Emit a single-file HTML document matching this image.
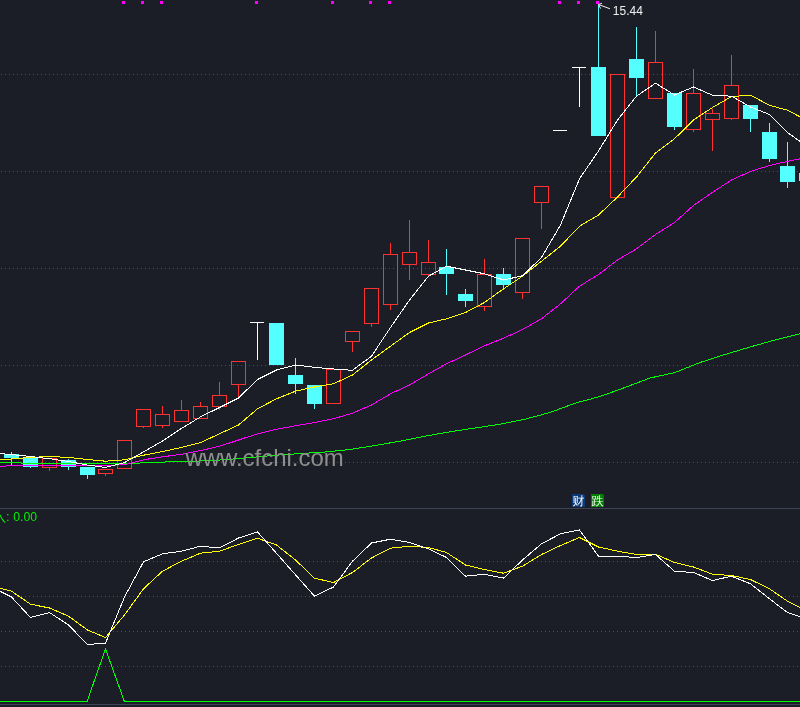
<!DOCTYPE html>
<html><head><meta charset="utf-8"><title>chart</title>
<style>html,body{margin:0;padding:0;background:#1c1e27;overflow:hidden}svg{display:block}</style></head>
<body>
<svg width="800" height="707" viewBox="0 0 800 707">
<g shape-rendering="crispEdges">
<rect width="800" height="707" fill="#1c1e27"/>
<line x1="1" x2="800" y1="74.5" y2="74.5" stroke="#465060" stroke-width="1" stroke-dasharray="1 3"/>
<line x1="1" x2="800" y1="171.5" y2="171.5" stroke="#465060" stroke-width="1" stroke-dasharray="1 3"/>
<line x1="1" x2="800" y1="268.5" y2="268.5" stroke="#465060" stroke-width="1" stroke-dasharray="1 3"/>
<line x1="1" x2="800" y1="365.5" y2="365.5" stroke="#465060" stroke-width="1" stroke-dasharray="1 3"/>
<line x1="1" x2="800" y1="462.5" y2="462.5" stroke="#465060" stroke-width="1" stroke-dasharray="1 3"/>
<line x1="1" x2="800" y1="561.5" y2="561.5" stroke="#465060" stroke-width="1" stroke-dasharray="1 3"/>
<line x1="1" x2="800" y1="596.5" y2="596.5" stroke="#465060" stroke-width="1" stroke-dasharray="1 3"/>
<line x1="1" x2="800" y1="631.5" y2="631.5" stroke="#465060" stroke-width="1" stroke-dasharray="1 3"/>
<line x1="1" x2="800" y1="666.5" y2="666.5" stroke="#465060" stroke-width="1" stroke-dasharray="1 3"/>
<rect x="0" y="508" width="800" height="1" fill="#3d4453"/>
<rect x="0" y="704" width="800" height="1" fill="#3d4453"/>
<rect x="4" y="454" width="15" height="4" fill="#54ffff"/>
<rect x="11" y="452" width="1" height="2" fill="#54ffff"/>
<rect x="11" y="458" width="1" height="7" fill="#54ffff"/>
<rect x="23" y="457" width="15" height="10" fill="#54ffff"/>
<rect x="30" y="467" width="1" height="1" fill="#54ffff"/>
<rect x="42.5" y="458.5" width="14" height="9" fill="none" stroke="#ff3232"/>
<rect x="49" y="468" width="1" height="3" fill="#ff3232"/>
<rect x="61" y="460" width="15" height="7" fill="#54ffff"/>
<rect x="68" y="459" width="1" height="1" fill="#54ffff"/>
<rect x="68" y="467" width="1" height="3" fill="#54ffff"/>
<rect x="80" y="467" width="15" height="8" fill="#54ffff"/>
<rect x="87" y="475" width="1" height="4" fill="#54ffff"/>
<rect x="98.5" y="469.5" width="14" height="4" fill="none" stroke="#ff3232"/>
<rect x="105" y="474" width="1" height="2" fill="#ff3232"/>
<rect x="117.5" y="440.5" width="14" height="28" fill="none" stroke="#ff3232"/>
<rect x="136.5" y="409.5" width="14" height="17" fill="none" stroke="#ff3232"/>
<rect x="143" y="427" width="1" height="1" fill="#ff3232"/>
<rect x="155.5" y="414.5" width="14" height="11" fill="none" stroke="#ff3232"/>
<rect x="162" y="406" width="1" height="8" fill="#ff3232"/>
<rect x="162" y="426" width="1" height="2" fill="#ff3232"/>
<rect x="174.5" y="410.5" width="14" height="11" fill="none" stroke="#ff3232"/>
<rect x="181" y="400" width="1" height="10" fill="#ff3232"/>
<rect x="193.5" y="406.5" width="14" height="12" fill="none" stroke="#ff3232"/>
<rect x="200" y="402" width="1" height="4" fill="#ff3232"/>
<rect x="212.5" y="395.5" width="14" height="11" fill="none" stroke="#ff3232"/>
<rect x="219" y="382" width="1" height="13" fill="#ff3232"/>
<rect x="219" y="407" width="1" height="3" fill="#ff3232"/>
<rect x="231.5" y="361.5" width="14" height="23" fill="none" stroke="#ff3232"/>
<rect x="238" y="385" width="1" height="12" fill="#ff3232"/>
<rect x="250" y="322" width="14" height="1" fill="#ffffff"/>
<rect x="257" y="323" width="1" height="37" fill="#ffffff"/>
<rect x="269" y="323" width="15" height="42" fill="#54ffff"/>
<rect x="288" y="375" width="15" height="9" fill="#54ffff"/>
<rect x="295" y="358" width="1" height="17" fill="#54ffff"/>
<rect x="295" y="384" width="1" height="10" fill="#54ffff"/>
<rect x="307" y="385" width="15" height="19" fill="#54ffff"/>
<rect x="314" y="404" width="1" height="5" fill="#54ffff"/>
<rect x="326.5" y="369.5" width="14" height="34" fill="none" stroke="#ff3232"/>
<rect x="345.5" y="331.5" width="14" height="10" fill="none" stroke="#ff3232"/>
<rect x="352" y="342" width="1" height="10" fill="#ff3232"/>
<rect x="364.5" y="288.5" width="14" height="35" fill="none" stroke="#ff3232"/>
<rect x="371" y="324" width="1" height="3" fill="#ff3232"/>
<rect x="383.5" y="254.5" width="14" height="50" fill="none" stroke="#ff3232"/>
<rect x="390" y="243" width="1" height="11" fill="#ff3232"/>
<rect x="390" y="305" width="1" height="5" fill="#ff3232"/>
<rect x="402.5" y="252.5" width="14" height="12" fill="none" stroke="#ff3232"/>
<rect x="409" y="220" width="1" height="32" fill="#ff3232"/>
<rect x="409" y="265" width="1" height="15" fill="#ff3232"/>
<rect x="421.5" y="262.5" width="14" height="12" fill="none" stroke="#ff3232"/>
<rect x="428" y="240" width="1" height="22" fill="#ff3232"/>
<rect x="428" y="275" width="1" height="1" fill="#ff3232"/>
<rect x="439" y="267" width="15" height="7" fill="#54ffff"/>
<rect x="446" y="249" width="1" height="18" fill="#54ffff"/>
<rect x="446" y="274" width="1" height="21" fill="#54ffff"/>
<rect x="458" y="294" width="15" height="7" fill="#54ffff"/>
<rect x="465" y="289" width="1" height="5" fill="#54ffff"/>
<rect x="465" y="301" width="1" height="6" fill="#54ffff"/>
<rect x="477.5" y="274.5" width="14" height="32" fill="none" stroke="#ff3232"/>
<rect x="484" y="259" width="1" height="15" fill="#ff3232"/>
<rect x="484" y="307" width="1" height="4" fill="#ff3232"/>
<rect x="496" y="274" width="15" height="11" fill="#54ffff"/>
<rect x="503" y="268" width="1" height="6" fill="#54ffff"/>
<rect x="503" y="285" width="1" height="5" fill="#54ffff"/>
<rect x="515.5" y="238.5" width="14" height="54" fill="none" stroke="#ff3232"/>
<rect x="522" y="293" width="1" height="6" fill="#ff3232"/>
<rect x="534.5" y="186.5" width="14" height="16" fill="none" stroke="#ff3232"/>
<rect x="541" y="203" width="1" height="26" fill="#ff3232"/>
<rect x="553" y="130" width="14" height="1" fill="#ffffff"/>
<rect x="572" y="67" width="14" height="1" fill="#ffffff"/>
<rect x="579" y="68" width="1" height="39" fill="#ffffff"/>
<rect x="591" y="67" width="15" height="69" fill="#54ffff"/>
<rect x="598" y="5" width="1" height="62" fill="#54ffff"/>
<rect x="610.5" y="74.5" width="14" height="123" fill="none" stroke="#ff3232"/>
<rect x="629" y="59" width="15" height="19" fill="#54ffff"/>
<rect x="636" y="27" width="1" height="32" fill="#54ffff"/>
<rect x="636" y="78" width="1" height="18" fill="#54ffff"/>
<rect x="648.5" y="62.5" width="14" height="36" fill="none" stroke="#ff3232"/>
<rect x="655" y="31" width="1" height="31" fill="#ff3232"/>
<rect x="667" y="93" width="15" height="34" fill="#54ffff"/>
<rect x="674" y="127" width="1" height="3" fill="#54ffff"/>
<rect x="686.5" y="93.5" width="14" height="36" fill="none" stroke="#ff3232"/>
<rect x="693" y="69" width="1" height="24" fill="#ff3232"/>
<rect x="693" y="130" width="1" height="2" fill="#ff3232"/>
<rect x="705.5" y="113.5" width="14" height="6" fill="none" stroke="#ff3232"/>
<rect x="712" y="109" width="1" height="4" fill="#ff3232"/>
<rect x="712" y="120" width="1" height="31" fill="#ff3232"/>
<rect x="724.5" y="85.5" width="14" height="33" fill="none" stroke="#ff3232"/>
<rect x="731" y="55" width="1" height="30" fill="#ff3232"/>
<rect x="731" y="119" width="1" height="1" fill="#ff3232"/>
<rect x="743" y="105" width="15" height="14" fill="#54ffff"/>
<rect x="750" y="119" width="1" height="13" fill="#54ffff"/>
<rect x="762" y="132" width="15" height="27" fill="#54ffff"/>
<rect x="769" y="123" width="1" height="9" fill="#54ffff"/>
<rect x="769" y="159" width="1" height="3" fill="#54ffff"/>
<rect x="780" y="166" width="15" height="16" fill="#54ffff"/>
<rect x="787" y="142" width="1" height="24" fill="#54ffff"/>
<rect x="787" y="182" width="1" height="6" fill="#54ffff"/>
<rect x="799" y="173" width="15" height="8" fill="#54ffff"/>
<polyline points="0.0,462.5 20.0,462.5 22.0,463.5 130.0,463.5 150.0,462.5 180.0,461.5 200.0,461.0 220.0,460.0 240.0,458.5 250.0,457.5 275.0,455.3 300.0,453.6 325.0,452.0 350.0,449.5 375.0,445.5 400.0,441.2 425.0,436.2 450.0,431.8 475.0,428.0 500.0,424.2 525.0,419.2 550.0,412.5 575.0,403.2 600.0,396.5 625.0,387.5 650.0,378.0 675.0,372.5 700.0,362.5 725.0,354.5 750.0,347.0 775.0,340.0 800.0,333.8" fill="none" stroke="#00ff00"/>
<polyline points="0.0,466.5 11.5,465.5 30.5,465.5 49.5,465.5 68.5,465.5 87.5,465.5 105.5,465.5 124.5,464.6 143.5,459.8 162.5,456.8 181.5,454.3 200.5,450.6 219.5,446.3 238.5,440.0 257.5,433.8 276.5,429.2 295.5,425.8 314.5,422.5 333.5,418.8 352.5,413.2 371.5,405.0 390.5,393.8 409.5,385.0 428.5,373.8 446.5,363.8 465.5,355.0 484.5,345.8 503.5,338.2 522.5,329.5 541.5,318.8 560.5,303.8 579.5,286.2 598.5,274.5 617.5,260.0 636.5,248.8 655.5,234.5 674.5,222.5 693.5,205.5 712.5,192.3 731.5,180.0 750.5,171.4 769.5,165.5 787.5,161.4 806.5,157.5" fill="none" stroke="#ff00ff" stroke-width="1"/>
<polyline points="0.0,459.5 11.5,459.0 30.5,457.4 49.5,456.5 68.5,457.4 87.5,459.5 105.5,461.2 124.5,459.8 143.5,455.2 162.5,451.6 181.5,447.4 200.5,442.6 219.5,433.8 238.5,425.0 257.5,408.8 276.5,398.8 295.5,391.2 314.5,387.0 333.5,383.8 352.5,375.0 371.5,360.0 390.5,346.2 409.5,332.5 428.5,323.0 446.5,318.8 465.5,312.5 484.5,302.5 503.5,288.8 522.5,276.2 541.5,261.2 560.5,246.2 579.5,226.2 598.5,215.0 617.5,197.0 636.5,177.0 655.5,153.0 674.5,138.8 693.5,120.0 712.5,107.5 731.5,96.5 750.5,95.2 769.5,105.3 787.5,110.2 806.5,120.2" fill="none" stroke="#ffff00" stroke-width="1"/>
<polyline points="0.0,453.5 11.5,454.6 30.5,456.5 49.5,458.7 68.5,461.5 87.5,465.1 105.5,467.4 124.5,462.6 143.5,451.9 162.5,441.1 181.5,428.4 200.5,416.9 219.5,407.5 238.5,398.0 257.5,379.5 276.5,370.0 295.5,365.0 314.5,367.3 333.5,369.0 352.5,370.3 371.5,356.2 390.5,327.5 409.5,300.0 428.5,276.2 446.5,266.2 465.5,270.0 484.5,273.8 503.5,280.0 522.5,275.8 541.5,257.5 560.5,225.0 579.5,178.8 598.5,151.0 617.5,120.0 636.5,96.2 655.5,83.2 674.5,95.0 693.5,87.0 712.5,95.2 731.5,96.2 750.5,107.0 769.5,114.5 787.5,132.5 806.5,146.0" fill="none" stroke="#ffffff" stroke-width="1"/>
<polyline points="0.0,588.2 11.5,591.2 30.5,604.2 49.5,608.0 68.5,616.2 87.5,630.0 105.5,637.5 124.5,615.0 143.5,588.8 162.5,571.2 181.5,561.2 200.5,553.2 219.5,551.2 238.5,544.5 257.5,538.2 276.5,545.0 295.5,560.0 314.5,578.2 333.5,582.5 352.5,572.5 371.5,558.0 390.5,548.2 409.5,546.2 428.5,547.5 446.5,552.5 465.5,565.0 484.5,569.5 503.5,573.2 522.5,566.2 541.5,554.5 560.5,545.5 579.5,537.5 598.5,547.0 617.5,551.2 636.5,554.5 655.5,554.2 674.5,562.5 693.5,567.0 712.5,574.2 731.5,575.5 750.5,579.5 769.5,588.8 787.5,601.2 806.5,611.0" fill="none" stroke="#ffff00" stroke-width="1"/>
<polyline points="0.0,591.2 11.5,597.0 30.5,617.5 49.5,612.5 68.5,625.0 87.5,644.5 105.5,643.2 124.5,597.0 143.5,561.8 162.5,553.8 181.5,551.2 200.5,546.2 219.5,548.0 238.5,538.0 257.5,532.0 276.5,553.3 295.5,574.8 314.5,596.2 333.5,587.0 352.5,561.2 371.5,543.0 390.5,539.2 409.5,542.5 428.5,548.8 446.5,557.5 465.5,576.2 484.5,574.2 503.5,578.2 522.5,560.0 541.5,543.8 560.5,533.8 579.5,530.0 598.5,556.2 617.5,556.2 636.5,557.5 655.5,554.5 674.5,571.2 693.5,572.5 712.5,580.5 731.5,576.2 750.5,583.8 769.5,598.8 787.5,612.5 806.5,619.0" fill="none" stroke="#ffffff" stroke-width="1"/>
<polyline points="0,701.5 87,701.5 105.5,649 124.4,701.5 800,701.5" fill="none" stroke="#00ff00"/>
<rect x="122" y="1" width="3" height="3" fill="#ff00ff"/>
<rect x="141" y="1" width="3" height="3" fill="#ff00ff"/>
<rect x="160" y="1" width="3" height="3" fill="#ff00ff"/>
<rect x="255" y="1" width="3" height="3" fill="#ff00ff"/>
<rect x="331" y="1" width="3" height="3" fill="#ff00ff"/>
<rect x="369" y="1" width="3" height="3" fill="#ff00ff"/>
<rect x="388" y="1" width="3" height="3" fill="#ff00ff"/>
<rect x="558" y="1" width="3" height="3" fill="#ff00ff"/>
<rect x="577" y="1" width="3" height="3" fill="#ff00ff"/>
<rect x="596" y="1" width="3" height="3" fill="#ff00ff"/>
</g>
<polyline points="598.5,4.5 610,8.8" fill="none" stroke="#f0f0f0"/>
<polyline points="602,3.2 598.5,4.5 600.6,8.6" fill="none" stroke="#f0f0f0"/>
<text x="612.8" y="15" font-family="'Liberation Sans',sans-serif" font-size="12.5" textLength="30" lengthAdjust="spacingAndGlyphs" fill="#f0f0f0">15.44</text>
<text x="-6.5" y="521.5" font-family="'Liberation Sans','Noto Sans CJK SC',sans-serif" font-size="12.5" fill="#00f000">入</text>
<text x="6" y="521" font-family="'Liberation Sans','Noto Sans CJK SC',sans-serif" font-size="13" fill="#00f000">:</text>
<text x="13.3" y="521.3" font-family="'Liberation Sans','Noto Sans CJK SC',sans-serif" font-size="13" fill="#00f000" textLength="23.8" lengthAdjust="spacingAndGlyphs">0.00</text>
<path d="M572 494h11l2 2v11h-13z" fill="#0a3a78" shape-rendering="crispEdges"/>
<text x="578.5" y="505" text-anchor="middle" font-family="'Liberation Sans','WenQuanYi Zen Hei',sans-serif" font-size="12" fill="#fff">财</text>
<path d="M591 494h11l2 2v11h-13z" fill="#008000" shape-rendering="crispEdges"/>
<text x="597.5" y="505" text-anchor="middle" font-family="'Liberation Sans','WenQuanYi Zen Hei',sans-serif" font-size="12" fill="#fff">跌</text>
<text x="185.4" y="465.6" font-family="'Liberation Sans',sans-serif" font-size="23.7" textLength="158.3" lengthAdjust="spacingAndGlyphs" fill="#8e8e8e">www.cfchi.com</text>
</svg>
</body></html>
